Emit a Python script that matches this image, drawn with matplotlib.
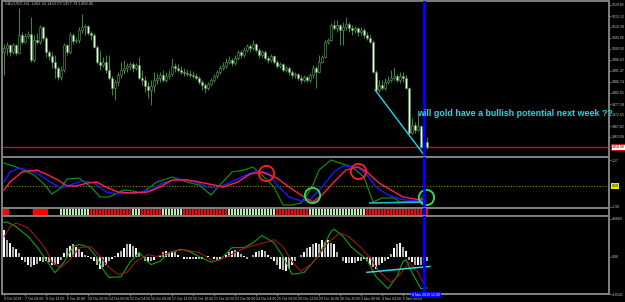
import matplotlib
matplotlib.use("Agg")
import matplotlib.pyplot as plt
import numpy as np

# ---------------- data ----------------
first_open = 1499.6
close = [1501.4,1502.7,1499.6,1502.7,1499.2,1507.0,1503.9,1506.5,1507.4,1496.2,
         1504.8,1503.9,1510.4,1505.7,1499.6,1497.9,1495.3,1492.8,1488.9,1491.9,
         1502.7,1499.6,1507.0,1504.4,1504.8,1509.1,1510.4,1510.8,1507.8,1507.0,
         1501.8,1495.3,1494.1,1495.3,1491.9,1488.5,1484.2,1486.7,1489.8,1491.9,
         1492.8,1493.6,1494.5,1492.8,1494.1,1488.5,1487.6,1485.0,1483.3,1485.0,
         1487.6,1488.5,1489.8,1487.6,1489.3,1490.2,1493.6,1492.8,1491.9,1491.0,
         1490.6,1490.2,1489.8,1489.3,1488.5,1486.7,1485.5,1484.2,1485.9,1487.6,
         1489.3,1491.0,1492.8,1493.6,1495.3,1496.2,1494.9,1497.1,1499.6,1498.4,
         1500.5,1502.2,1501.4,1503.1,1500.5,1498.4,1499.6,1497.1,1496.2,1497.9,
         1495.3,1493.6,1494.5,1491.9,1492.8,1491.0,1489.8,1490.2,1488.5,1487.6,
         1488.9,1487.6,1489.8,1492.8,1491.0,1495.3,1497.5,1503.9,1504.8,1511.3,
         1510.0,1511.3,1509.1,1510.4,1511.7,1510.0,1509.1,1510.0,1508.2,1509.1,
         1507.0,1505.7,1503.9,1491.0,1483.3,1485.5,1484.2,1486.7,1487.6,1488.5,
         1489.3,1487.6,1489.3,1488.5,1484.2,1464.8,1468.3,1466.1,1467.8,1458.8,
         1460.9,1458.8]
high = [1503.1,1503.9,1503.1,1503.5,1503.1,1518.6,1508.2,1507.8,1508.7,1514.7,
        1507.0,1507.8,1511.3,1510.8,1506.5,1500.5,1499.6,1498.4,1493.6,1493.6,
        1503.5,1503.1,1508.2,1507.8,1505.7,1510.4,1516.0,1511.7,1511.3,1508.7,
        1507.8,1502.7,1500.5,1497.5,1498.4,1498.4,1489.3,1487.6,1491.0,1495.3,
        1496.2,1494.9,1495.3,1495.3,1494.9,1497.5,1491.9,1489.3,1486.7,1487.6,
        1491.0,1490.6,1491.0,1491.9,1491.0,1491.9,1497.1,1494.9,1494.5,1493.6,
        1492.8,1492.3,1491.9,1491.5,1490.6,1489.3,1487.6,1486.3,1486.7,1488.5,
        1490.2,1491.9,1494.1,1495.3,1497.1,1497.9,1497.1,1498.4,1500.5,1500.5,
        1501.8,1503.1,1503.1,1504.8,1503.5,1501.4,1500.5,1500.5,1497.9,1498.8,
        1498.4,1496.2,1495.3,1494.9,1493.6,1493.6,1491.9,1491.0,1490.6,1489.8,
        1489.8,1489.3,1490.6,1494.1,1493.6,1498.4,1498.4,1504.8,1505.7,1512.1,
        1513.4,1513.4,1511.7,1512.5,1514.7,1512.5,1511.3,1510.8,1510.4,1510.4,
        1510.0,1508.2,1507.0,1504.8,1491.9,1487.6,1487.6,1488.5,1489.3,1491.9,
        1493.2,1490.2,1491.0,1491.0,1489.8,1484.6,1471.3,1469.5,1473.4,1468.3,
        1462.7,1463.1]
low = [1489.8,1498.4,1497.9,1498.8,1498.4,1498.8,1503.1,1503.5,1505.7,1495.3,
       1495.3,1503.1,1503.1,1504.8,1497.5,1496.2,1492.8,1488.5,1487.6,1487.6,
       1491.0,1498.4,1498.8,1503.1,1503.5,1503.5,1507.8,1507.0,1507.0,1504.8,
       1501.4,1494.5,1491.9,1493.2,1490.6,1487.6,1481.2,1479.0,1485.0,1488.5,
       1490.2,1491.0,1491.9,1491.0,1491.9,1488.0,1485.5,1482.4,1479.9,1476.9,
       1482.4,1485.9,1486.7,1486.7,1486.7,1488.0,1489.3,1491.0,1491.0,1490.2,
       1489.3,1489.3,1488.9,1488.5,1487.6,1485.9,1483.3,1482.0,1483.3,1485.0,
       1486.7,1488.5,1490.2,1491.9,1492.8,1494.5,1493.6,1494.1,1496.2,1497.1,
       1497.5,1499.6,1499.6,1500.5,1499.6,1497.1,1497.5,1496.2,1494.9,1495.3,
       1494.5,1492.8,1492.8,1491.0,1491.0,1489.8,1488.5,1488.5,1487.6,1486.3,
       1486.7,1486.7,1486.7,1488.5,1484.2,1490.6,1494.9,1497.1,1503.1,1504.4,
       1509.1,1508.2,1502.7,1502.7,1509.1,1508.2,1507.0,1507.8,1506.5,1507.0,
       1505.7,1504.8,1503.5,1490.6,1482.4,1482.4,1483.3,1483.3,1485.9,1486.7,
       1487.6,1486.7,1486.3,1486.7,1483.7,1464.4,1464.4,1464.8,1465.7,1458.4,
       1457.5,1457.9]
last_price = 1458.80
price_ticks = [1519.85,1515.12,1510.39,1505.66,1500.93,1496.20,1491.47,
               1486.74,1482.01,1477.28,1472.55,1467.82,1463.09]
trend_idx = [123.7, 140.3]
trend_price = [1483.3, 1454.9]
annotation = "will gold have a bullish potential next week ??"
title_text = "XAUUSD,H4  1462.34 1463.59 1457.74 1458.80"

# oscillator panel (0..102 scale)
osc_green_idx = [0,2,5,10,13,16,19,21,25,29,32,35,40,43,46,51,56,61,65,69,72,76,80,83,86,90,
                 93,96,99,101,103,105,109,113,116,120,123,126,130,132,136,140]
osc_green_val = [90,86,80,66,50,28,40,58,60,42,22,22,36,34,30,52,62,52,46,26,46,72,76,82,66,42,
                 6,6,10,26,46,76,96,88,82,62,12,20,20,12,12,22]
osc_blue_idx = [0,2,5,10,13,16,19,22,26,30,34,38,43,49,53,58,63,68,71,75,80,84,88,91,95,99,
                102,106,110,113,118,121,124,128,132,136,140]
osc_blue_val = [52,72,80,72,62,50,40,46,54,50,32,28,30,36,50,58,54,42,40,50,64,74,70,46,22,14,
                16,42,72,84,82,66,42,26,18,14,16]
osc_red_idx = [0,2,6,11,14,18,21,24,28,31,34,38,43,48,52,56,61,65,70,73,78,82,86,91,95,100,
               103,106,110,114,118,121,125,129,133,139,140]
osc_red_val = [36,52,72,76,68,56,44,44,50,52,42,32,30,32,42,56,56,52,46,42,52,68,72,60,42,22,
               12,26,52,76,82,72,50,36,22,16,18]
osc_level = 44
osc_labels = {96: "1.17", 44: "0.50", 2: "-1.98"}
red_circles = [(87.3, 70), (118.0, 74)]
green_circles = [(102.7, 26), (140.7, 22)]
osc_cyan_idx = [122, 140.3]
osc_cyan_val = [10, 12]

# signal strip (run-length coded per candle)
strip_runs = [("r", 2), ("k", 8), ("r", 5), ("k", 4), ("g", 10), ("r", 14), ("g", 3),
              ("r", 7), ("g", 7), ("r", 15), ("g", 16), ("r", 11), ("g", 19), ("r", 21)]

# histogram panel
hist = [3.3,2.1,1.7,1.2,0.9,0.4,-0.4,-0.7,-1.1,-1.35,-1.0,-0.9,-0.6,-0.7,-0.5,-0.7,-1.0,-1.1,-0.9,-0.4,
        0.4,1.0,1.35,1.5,1.2,0.9,0.5,0.25,0.1,-0.25,-0.6,-1.1,-1.6,-1.35,-1.0,-0.6,-0.25,0.1,0.4,0.7,
        1.1,1.5,1.5,1.35,1.0,0.5,-0.1,-0.5,-0.7,-0.6,-0.4,-0.1,0.25,0.5,0.7,0.6,0.7,0.5,0.25,-0.1,
        -0.25,-0.25,-0.35,-0.25,-0.25,-0.35,-0.25,-0.1,0.1,-0.1,-0.35,-0.5,-0.35,-0.1,0.25,0.5,0.7,0.85,0.6,0.35,
        0.1,-0.25,-0.1,0.25,0.5,0.7,0.85,0.7,0.25,-0.25,-0.6,-1.0,-1.5,-1.7,-1.85,-1.5,-1.0,-0.5,-0.1,0.25,
        0.6,1.0,1.2,1.6,1.7,1.6,2.0,1.85,2.0,1.7,1.5,0.5,-0.1,-0.5,-0.75,-0.85,-0.75,-0.75,-0.6,-0.5,
        -0.35,-0.6,-1.1,-1.35,-1.6,-1.1,-0.75,-0.5,-0.25,0.35,1.0,1.6,1.7,1.2,0.7,-0.4,-0.7,-1.0,-1.1,-1.0,
        -0.85,-0.5]
macd_green_idx = [0,1,4,8,11,14,17,20,23,25,28,31,33,35,39,42,45,49,52,55,59,62,65,69,72,76,80,83,86,
                  90,93,96,100,103,105,109,110,113,116,121,124,128,131,133,134,136,139,141]
macd_green_val = [4.2,4.3,3.7,2.5,1.2,-0.4,-2.0,-0.7,1.2,1.5,1.2,-0.1,-1.6,-2.6,-2.5,-0.7,0.5,-1.0,-0.6,
                  0.5,0.9,0.6,0.0,-0.7,-0.4,1.1,1.1,1.7,2.6,1.7,0.0,-2.2,-2.0,-0.7,0.2,3.1,3.4,2.5,1.1,
                  -0.4,-2.5,-4.0,-2.5,-0.6,-0.4,-2.0,-4.0,-3.9]
macd_red_idx = [0,2,4,8,11,14,16,19,22,25,29,32,35,38,41,44,48,51,55,60,65,70,74,79,83,88,90,93,96,
                99,103,108,112,115,119,122,125,129,132,135,138,140]
macd_red_val = [2.45,3.68,4.17,3.56,2.33,0.86,-0.74,-1.35,-0.37,1.1,1.23,0.0,-1.35,-2.21,-1.96,-0.61,
                0.25,0.0,0.49,0.86,0.49,-0.61,-0.12,0.86,1.35,1.84,2.09,1.23,-0.61,-1.84,-0.74,1.72,
                2.94,2.45,1.1,-0.12,-1.84,-3.19,-2.21,-0.74,-1.96,-3.44]
macd_cyan_idx = [121, 142]
macd_cyan_val = [-1.96, -1.23]
macd_ticks = [4.6683, 0.0, -4.6541]

time_ticks = list(range(0, 140, 7))
time_labels = ["4 Oct 2019", "7 Oct 08:00", "8 Oct 12:00", "9 Oct 16:00", "10 Oct 20:00",
               "14 Oct 00:00", "15 Oct 04:00", "16 Oct 08:00", "17 Oct 12:00", "18 Oct 16:00",
               "21 Oct 20:00", "23 Oct 00:00", "24 Oct 04:00", "25 Oct 08:00", "28 Oct 12:00",
               "29 Oct 16:00", "30 Oct 20:00", "1 Nov 00:00", "4 Nov 04:00", "5 Nov 08:00"]
cursor_idx = 140
cursor_label = "8 Nov 2019 12:00"

# ---------------- style ----------------
plt.rcParams["font.family"] = ["Liberation Sans", "DejaVu Sans"]
BG = "black"
FRAME = "#808080"
LBL = "#c8c8c8"
TS = 2.5
W, H = 625, 302
fig = plt.figure(figsize=(W / 100, H / 100), dpi=100, facecolor=BG)

def px_axes(top, bottom):
    ax = fig.add_axes([2 / W, 1 - bottom / H, 607 / W, (bottom - top) / H])
    ax.set_facecolor(BG)
    for s in ax.spines.values():
        s.set_color(FRAME)
        s.set_linewidth(1.4)
    ax.set_xlim(-0.667, 201.667)
    ax.tick_params(axis="x", which="both", bottom=False, labelbottom=False)
    ax.yaxis.tick_right()
    ax.tick_params(axis="y", colors=FRAME, labelcolor=LBL, labelsize=TS, length=1.5, pad=0.6, width=0.6)
    return ax

n = len(close)
idx = np.arange(n)
opens = np.array([first_open] + close[:-1])
close_a = np.array(close)
hi = np.maximum.reduce([np.array(high), opens, close_a])
lo = np.minimum.reduce([np.array(low), opens, close_a])

# main price panel
ax = px_axes(1, 157)
ax.set_ylim(1454.49, 1521.57)
WICK = "#3f8a3f"
ax.vlines(idx, lo, hi, color=WICK, linewidth=0.7, zorder=2)
bull = close_a >= opens
body_h = np.where(np.abs(close_a - opens) < 0.15, 0.15, close_a - opens)
ax.bar(idx[bull], body_h[bull], bottom=opens[bull], width=0.7, color="black",
       edgecolor=WICK, linewidth=0.5, zorder=3)
ax.bar(idx[~bull], body_h[~bull], bottom=opens[~bull], width=0.7, color="#eef8e6",
       edgecolor=WICK, linewidth=0.4, zorder=3)
ax.axhline(last_price, color="#c01010", linewidth=1.0, zorder=1)
ax.plot(trend_idx, trend_price, color="#19d9f0", linewidth=1.0, zorder=4)
ax.set_yticks(price_ticks)
ax.set_yticklabels([f"{p:.2f}" for p in price_ticks])
ax.text(1.004, last_price, f"{last_price:.2f}", transform=ax.get_yaxis_transform(),
        fontsize=TS, color="black", va="center", ha="left",
        bbox=dict(boxstyle="square,pad=0.2", facecolor="white", edgecolor="#e00000", linewidth=0.6),
        clip_on=False)
ax.text(137.7, 1473.4, annotation, color="#19d9f0", fontsize=6.4, va="center", ha="left",
        fontweight="bold", zorder=6)
ax.text(0.4, 1520.6, title_text, color="#b0b0b0", fontsize=3.0, va="center", ha="left")
ax.axvline(cursor_idx, color="#0000ff", linewidth=2, zorder=5)

# oscillator panel
ax2 = px_axes(157, 208)
ax2.set_ylim(0, 102)
ax2.axhline(osc_level, color="#8a8a00", linewidth=0.8, linestyle=(0, (1, 1.5)), zorder=1)
ax2.plot(osc_green_idx, osc_green_val, color="#119911", linewidth=0.8, zorder=3)
ax2.plot(osc_blue_idx, osc_blue_val, color="#1a1aff", linewidth=1.0, zorder=4)
ax2.plot(osc_red_idx, osc_red_val, color="#ff2050", linewidth=1.0, zorder=4)
ax2.plot(osc_cyan_idx, osc_cyan_val, color="#20b8c0", linewidth=1.2, zorder=5)
for cx, cy in red_circles:
    ax2.plot(cx, cy, marker="o", markersize=11, markerfacecolor="none",
             markeredgecolor="#ff2020", markeredgewidth=1.3, zorder=6)
for cx, cy in green_circles:
    ax2.plot(cx, cy, marker="o", markersize=11, markerfacecolor="none",
             markeredgecolor="#30e060", markeredgewidth=1.3, zorder=6)
ax2.set_yticks([k for k in osc_labels if k != osc_level])
ax2.set_yticklabels([osc_labels[k] for k in osc_labels if k != osc_level])
ax2.text(1.004, osc_level, osc_labels[osc_level], transform=ax2.get_yaxis_transform(),
         fontsize=TS, color="black", va="center", ha="left",
         bbox=dict(boxstyle="square,pad=0.2", facecolor="#f0f000", edgecolor="none"),
         clip_on=False)
ax2.axvline(cursor_idx, color="#0000ff", linewidth=2, zorder=7)

# strip panel
ax3 = px_axes(208, 216)
ax3.set_ylim(0, 1)
ax3.set_yticks([])
colmap = {"r": "#ff0000", "g": "#b4f0a8", "k": None}
pos = 0
for state, cnt in strip_runs:
    c = colmap[state]
    if c is not None:
        xs = np.arange(pos, pos + cnt)
        w = 1.0 if pos < 19 else 0.6
        ax3.bar(xs, 1, bottom=0, width=w, color=c, linewidth=0)
    pos += cnt
ax3.axvline(cursor_idx, color="#0000ff", linewidth=2, zorder=7)

# histogram panel
ax4 = px_axes(216, 294)
ax4.set_ylim(-4.54, 5.03)
hcols = ["white" if k % 2 == 0 else "#a8a8a8" for k in range(n)]
ax4.bar(idx, hist, width=0.55, color=hcols, linewidth=0, zorder=2)
ax4.plot(macd_green_idx, macd_green_val, color="#10a010", linewidth=0.8, zorder=3)
ax4.plot(macd_red_idx, macd_red_val, color="#a01515", linewidth=0.8, zorder=3)
ax4.plot(macd_cyan_idx, macd_cyan_val, color="#30d8e8", linewidth=1.1, zorder=4)
ax4.set_yticks(macd_ticks)
ax4.set_yticklabels([f"{v:.4f}" if v != 0 else "0.00" for v in macd_ticks])
ax4.axvline(cursor_idx, color="#0000ff", linewidth=2, zorder=7)
ax4.set_xticks(time_ticks)
ax4.set_xticklabels(time_labels, ha="left")
ax4.tick_params(axis="x", bottom=True, labelbottom=True, colors=FRAME, labelcolor=LBL,
                labelsize=TS, length=1.5, pad=1, width=0.6)
ax4.text(cursor_idx - 4, -4.54, cursor_label, fontsize=TS, color="white", ha="left", va="top",
         bbox=dict(boxstyle="square,pad=0.3", facecolor="#0000ff", edgecolor="none"),
         clip_on=False, zorder=8)

fig.savefig("out.png", dpi=100, facecolor=BG)
